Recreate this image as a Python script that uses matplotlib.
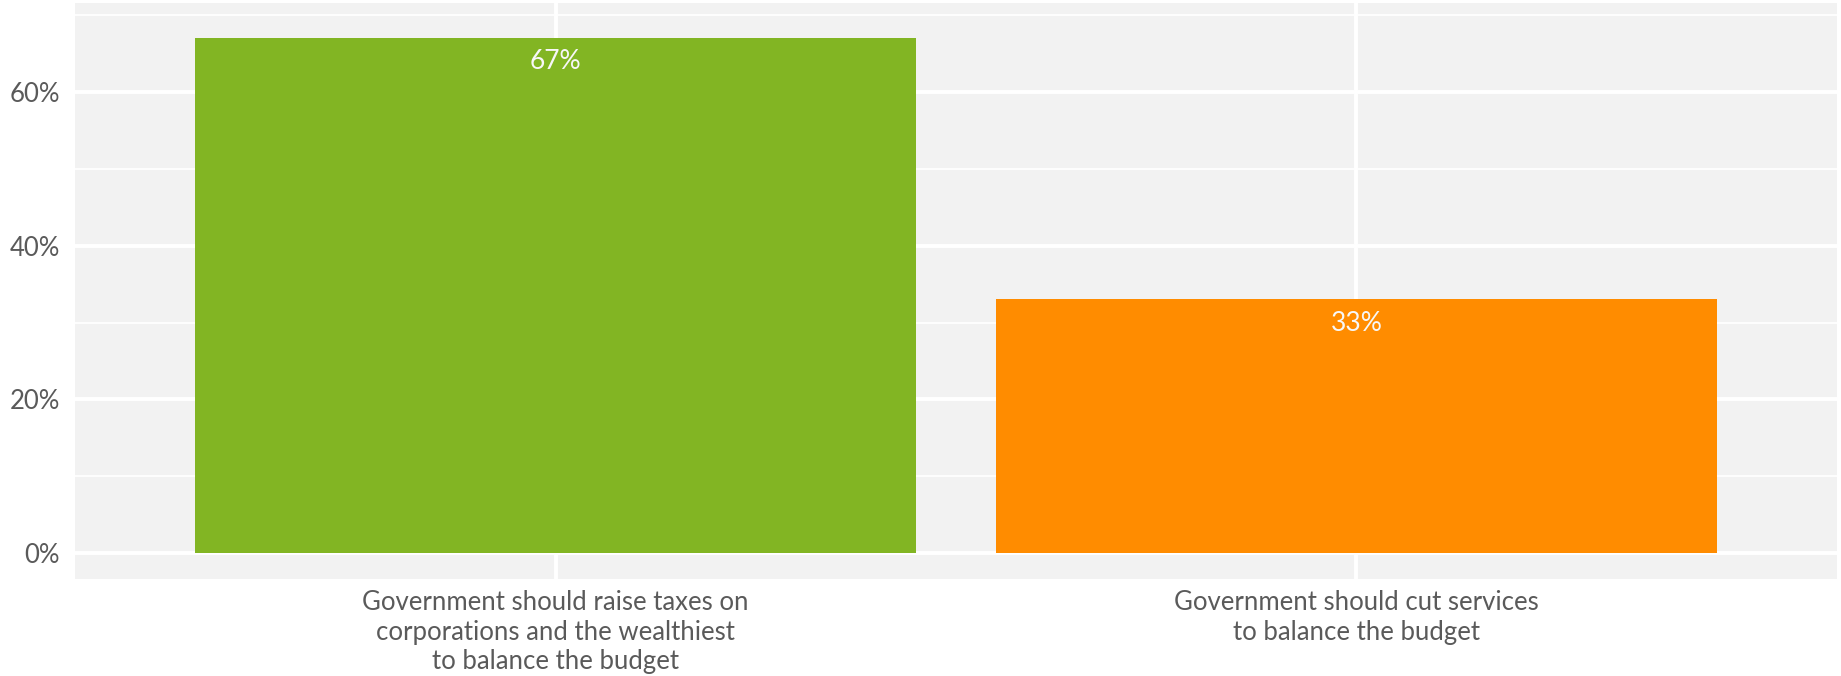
import matplotlib
matplotlib.use('Agg')
import matplotlib.pyplot as plt
from matplotlib.ticker import MultipleLocator, FuncFormatter

# ── Data ─────────────────────────────────────────────────────────────────────
categories = [
    'Government should raise taxes on\ncorporations and the wealthiest\nto balance the budget',
    'Government should cut services\nto balance the budget',
]
shares = [0.67, 0.33]
bar_labels = ['67%', '33%']
bar_colors = ['#82B523', '#FF8C00']

# ── Style ────────────────────────────────────────────────────────────────────
plt.rcParams['font.family'] = ['Lato', 'DejaVu Sans']
PANEL = '#F2F2F2'
TEXT = '#5A5A5A'

W, H, DPI = 1841, 676, 100
fig = plt.figure(figsize=(W / DPI, H / DPI), dpi=DPI)
fig.patch.set_facecolor('white')

# panel placement in pixels
left, right, top, bottom = 75, 1837, 3, 579
ax = fig.add_axes([left / W, (H - bottom) / H, (right - left) / W, (bottom - top) / H])
ax.set_facecolor(PANEL)
for s in ax.spines.values():
    s.set_visible(False)

x = list(range(1, len(categories) + 1))
bars = ax.bar(x, shares, width=0.9, color=bar_colors, zorder=3)

for xi, v, lab in zip(x, shares, bar_labels):
    ax.annotate(lab, xy=(xi, v), xytext=(0, -8), textcoords='offset points',
                ha='center', va='top', fontsize=19, color='#F7F7F7', zorder=4)

ax.set_xlim(0.4, 2.6)
ax.set_ylim(-0.0335, 0.7155)

ax.yaxis.set_major_locator(MultipleLocator(0.2))
ax.yaxis.set_minor_locator(MultipleLocator(0.1))
ax.yaxis.set_major_formatter(FuncFormatter(lambda v, p: f'{v * 100:.0f}%'))
ax.set_xticks(x)
ax.set_xticklabels(categories)

ax.grid(which='major', axis='both', color='white', lw=2.8, zorder=1)
ax.grid(which='minor', axis='y', color='white', lw=1.3, zorder=1)

ax.tick_params(axis='both', which='both', length=0, colors=TEXT)
ax.tick_params(axis='y', pad=11, labelsize=18.5)
ax.tick_params(axis='x', pad=8, labelsize=18.5)
for t in ax.get_xticklabels():
    t.set_linespacing(1.22)

fig.savefig('out.png', dpi=DPI, facecolor='white')
